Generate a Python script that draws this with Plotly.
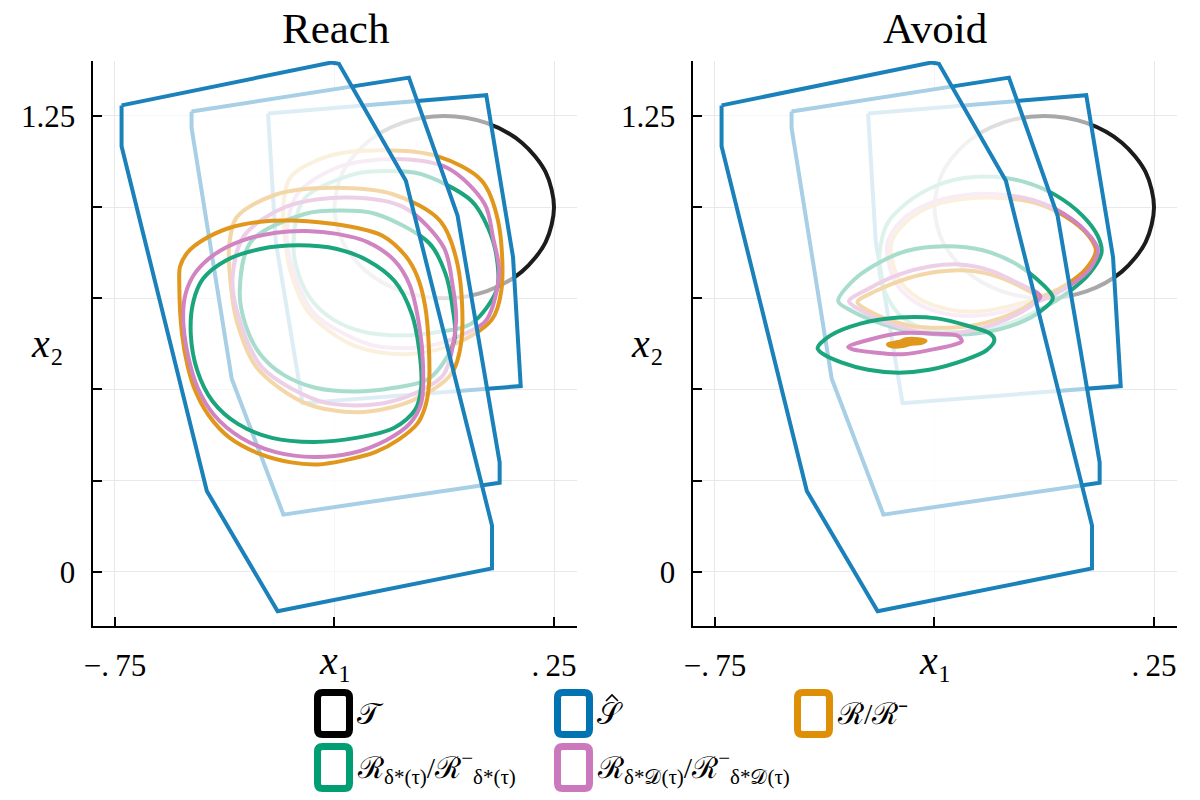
import plotly.graph_objects as go

# ---------------- data ----------------
# target set T (circle)
T_x = [0.25, 0.231, 0.1768, 0.0957, 0.0, -0.0957, -0.1768, -0.231, -0.25, -0.231, -0.1768, -0.0957, 0.0, 0.0957, 0.1768, 0.231, 0.25]
T_y = [1.0, 1.0957, 1.1768, 1.231, 1.25, 1.231, 1.1768, 1.0957, 1.0, 0.9043, 0.8232, 0.769, 0.75, 0.769, 0.8232, 0.9043, 1.0]

# S-hat polygons, layer 1 (oldest) .. layer 3 (newest)
S1_x = [-0.4013, 0.0957, 0.1567, 0.1742, -0.3228, -0.3838, -0.4013]
S1_y = [1.2567, 1.3071, 0.8628, 0.5092, 0.4622, 0.9053, 1.2567]
S2_x = [-0.5756, -0.0804, 0.0303, 0.1262, 0.1262, -0.3664, -0.4841, -0.5756, -0.5756]
S2_y = [1.2623, 1.3552, 0.9769, 0.2999, 0.2440, 0.1567, 0.5293, 1.2175, 1.2623]
S3_x = [-0.7350, -0.2574, -0.2400, -0.0874, 0.1088, 0.1088, -0.3795, -0.5408, -0.7350, -0.7350]
S3_y = [1.279, 1.3966, 1.3933, 1.0721, 0.1265, 0.0090, -0.1085, 0.2216, 1.1672, 1.279]

# ---- Reach panel ----
RO3_x = [-0.6035, -0.6018, -0.5843, -0.5495, -0.4884, -0.4187, -0.3490, -0.2705, -0.2008, -0.1397, -0.0874, -0.0612, -0.0438, -0.0351, -0.0351, -0.0438, -0.0612, -0.1048, -0.1571, -0.2269, -0.2879, -0.3490, -0.4187, -0.4884, -0.5364, -0.5669, -0.5843, -0.5974, -0.6035]
RO3_y = [0.7867, 0.8371, 0.8762, 0.9098, 0.9434, 0.9602, 0.9635, 0.9568, 0.9434, 0.9210, 0.8650, 0.8091, 0.7308, 0.6188, 0.5069, 0.4510, 0.4062, 0.3615, 0.3279, 0.3055, 0.2943, 0.2999, 0.3223, 0.3671, 0.4286, 0.4957, 0.5629, 0.6524, 0.7867]
RP3_x = [-0.5948, -0.5887, -0.5669, -0.5233, -0.4623, -0.3839, -0.3141, -0.2443, -0.1746, -0.1136, -0.0787, -0.0569, -0.0482, -0.0525, -0.0787, -0.1310, -0.2095, -0.2967, -0.3839, -0.4623, -0.5233, -0.5625, -0.5843, -0.5948]
RP3_y = [0.6972, 0.7643, 0.8203, 0.8706, 0.9076, 0.9300, 0.9344, 0.9266, 0.9042, 0.8539, 0.7867, 0.6748, 0.5629, 0.4622, 0.4062, 0.3615, 0.3256, 0.3145, 0.3279, 0.3671, 0.4286, 0.5069, 0.5965, 0.6972]
RG3_x = [-0.5774, -0.5713, -0.5495, -0.4972, -0.4187, -0.3315, -0.2443, -0.1746, -0.1136, -0.0743, -0.0569, -0.0525, -0.0656, -0.1136, -0.2008, -0.2967, -0.3926, -0.4710, -0.5277, -0.5625, -0.5774]
RG3_y = [0.6524, 0.7419, 0.8035, 0.8539, 0.8852, 0.8953, 0.8852, 0.8539, 0.7979, 0.7084, 0.6076, 0.5069, 0.4454, 0.3950, 0.3671, 0.3559, 0.3671, 0.4062, 0.4678, 0.5517, 0.6524]

RO2_x = [-0.4901, -0.4722, -0.3829, -0.2531, -0.1151, -0.0096, 0.0310, 0.0391, 0.0148, -0.0745, -0.1962, -0.3180, -0.4276, -0.4722, -0.4844, -0.4901]
RO2_y = [0.8906, 0.9729, 1.0347, 1.0532, 1.0347, 0.9626, 0.8391, 0.6331, 0.5405, 0.4685, 0.4376, 0.4633, 0.5611, 0.6847, 0.7670, 0.8906]
RP2_x = [-0.4820, -0.4560, -0.3586, -0.2206, -0.0908, -0.0015, 0.0188, 0.0269, -0.0015, -0.0502, -0.1232, -0.2044, -0.2856, -0.4154, -0.4722, -0.4820]
RP2_y = [0.8082, 0.9215, 1.0018, 1.0264, 0.9987, 0.8906, 0.7876, 0.6847, 0.5405, 0.4994, 0.4664, 0.4561, 0.4685, 0.5611, 0.7156, 0.8082]
RG2_x = [-0.4658, -0.4398, -0.3180, -0.2368, -0.1556, -0.0340, 0.0026, 0.0188, 0.0229, -0.0340, -0.1151, -0.2044, -0.2937, -0.3667, -0.4195, -0.4519, -0.4658]
RG2_y = [0.7670, 0.9060, 0.9812, 0.9905, 0.9812, 0.9009, 0.8185, 0.7258, 0.6331, 0.5302, 0.5045, 0.4942, 0.5045, 0.5405, 0.5972, 0.6744, 0.7670]

RO1_x = [-0.3664, -0.3496, -0.2658, -0.1439, -0.0144, 0.0847, 0.1228, 0.1304, 0.1076, 0.0238, -0.0905, -0.2048, -0.3077, -0.3496, -0.3610, -0.3664]
RO1_y = [1.0082, 1.0830, 1.1392, 1.1560, 1.1392, 1.0736, 0.9614, 0.7743, 0.6901, 0.6246, 0.5965, 0.6199, 0.7088, 0.8211, 0.8959, 1.0082]
RP1_x = [-0.3588, -0.3344, -0.2430, -0.1134, 0.0085, 0.0923, 0.1114, 0.1250, 0.0960, 0.0466, -0.0220, -0.0982, -0.1744, -0.2963, -0.3496, -0.3588]
RP1_y = [0.9334, 1.0363, 1.1093, 1.1317, 1.1064, 1.0082, 0.9146, 0.8211, 0.6901, 0.6527, 0.6227, 0.6134, 0.6246, 0.7088, 0.8492, 0.9334]
RG1_x = [-0.3435, -0.3192, -0.2048, -0.1286, -0.0524, 0.0618, 0.1000, 0.1200, 0.1200, 0.0618, -0.0144, -0.0982, -0.1820, -0.2506, -0.3001, -0.3305, -0.3435]
RG1_y = [0.8959, 1.0222, 1.0905, 1.0990, 1.0905, 1.0175, 0.9427, 0.8585, 0.7743, 0.6807, 0.6574, 0.6480, 0.6574, 0.6901, 0.7416, 0.8117, 0.8959]

# ---- Avoid panel ----
AG3_x = [-0.5163, -0.4884, -0.4187, -0.3315, -0.2443, -0.1746, -0.1223, -0.1136, -0.1310, -0.1833, -0.2618, -0.3315, -0.4013, -0.4623, -0.5059, -0.5163]
AG3_y = [0.6133, 0.6468, 0.6804, 0.6972, 0.6949, 0.6748, 0.6524, 0.6356, 0.6077, 0.5797, 0.5539, 0.5461, 0.5539, 0.5741, 0.5987, 0.6133]
AP3_x = [-0.4466, -0.4013, -0.3228, -0.2443, -0.1964, -0.1877, -0.2008, -0.2531, -0.3228, -0.3926, -0.4362, -0.4466]
AP3_y = [0.6166, 0.6356, 0.6547, 0.6524, 0.6468, 0.6323, 0.6244, 0.6099, 0.5965, 0.6021, 0.6099, 0.6166]
AO3_x = [-0.3559, -0.3315, -0.3141, -0.2879, -0.2705, -0.2792, -0.3054, -0.3228, -0.3490, -0.3559]
AO3_y = [0.6244, 0.6300, 0.6379, 0.6379, 0.6334, 0.6278, 0.6244, 0.6188, 0.6188, 0.6244]

AG2_x = [-0.4693, -0.4361, -0.3838, -0.3141, -0.2269, -0.1397, -0.0700, -0.0177, 0.0198, -0.0089, -0.0612, -0.1397, -0.2269, -0.3141, -0.3838, -0.4361, -0.4693]
AG2_y = [0.7419, 0.7979, 0.8427, 0.8796, 0.8930, 0.8818, 0.8482, 0.8035, 0.7509, 0.7140, 0.6804, 0.6558, 0.6502, 0.6614, 0.6860, 0.7140, 0.7419]
AP2_x = [-0.4449, -0.4013, -0.3315, -0.2618, -0.1920, -0.1223, -0.0612, -0.0089, -0.0351, -0.0874, -0.1571, -0.2269, -0.2967, -0.3664, -0.4187, -0.4449]
AP2_y = [0.7419, 0.7755, 0.8147, 0.8371, 0.8427, 0.8259, 0.7923, 0.7554, 0.7252, 0.6916, 0.6636, 0.6524, 0.6614, 0.6860, 0.7173, 0.7419]
AO2_x = [-0.4257, -0.3838, -0.3141, -0.2443, -0.1746, -0.1048, -0.0525, -0.0177, -0.0438, -0.0961, -0.1659, -0.2356, -0.3054, -0.3664, -0.4057, -0.4257]
AO2_y = [0.7397, 0.7699, 0.8035, 0.8225, 0.8259, 0.8091, 0.7811, 0.7531, 0.7252, 0.6972, 0.6748, 0.6692, 0.6748, 0.6972, 0.7196, 0.7397]

AG1_x = [-0.3751, -0.3577, -0.3141, -0.2531, -0.1833, -0.1136, -0.0438, 0.0259, 0.0870, 0.1218, 0.1306, 0.1044, 0.0521, -0.0177, -0.0961, -0.1833, -0.2618, -0.3228, -0.3620, -0.3751, -0.3751]
AG1_y = [0.8762, 0.9546, 1.0105, 1.0553, 1.0799, 1.0833, 1.0687, 1.0329, 0.9769, 0.9210, 0.8762, 0.8203, 0.7643, 0.7140, 0.6748, 0.6580, 0.6636, 0.6972, 0.7643, 0.8203, 0.8762]
AP1_x = [-0.3577, -0.3228, -0.2618, -0.1833, -0.1048, -0.0264, 0.0434, 0.0957, 0.1218, 0.1044, 0.0608, -0.0002, -0.0700, -0.1484, -0.2269, -0.2967, -0.3403, -0.3577]
AP1_y = [0.8986, 0.9658, 1.0105, 1.0329, 1.0351, 1.0195, 0.9825, 0.9322, 0.8852, 0.8315, 0.7867, 0.7475, 0.7196, 0.7028, 0.7084, 0.7419, 0.7979, 0.8986]
AO1_x = [-0.3490, -0.3141, -0.2531, -0.1746, -0.0961, -0.0177, 0.0477, 0.1000, 0.1175, 0.0957, 0.0521, -0.0089, -0.0787, -0.1484, -0.2182, -0.2879, -0.3315, -0.3490]
AO1_y = [0.8986, 0.9602, 1.0049, 1.0239, 1.0251, 1.0105, 0.9747, 0.9232, 0.8818, 0.8315, 0.7889, 0.7531, 0.7285, 0.7140, 0.7196, 0.7509, 0.8035, 0.8986]

x_tickvals = [-0.75, 0.25]
x_ticktext = ["\u2212.\u200975", ".\u200925"]
x_minorvals = [-0.25]
y_tickvals = [0, 1.25]
y_ticktext = ["0", "1.25"]
y_minorvals = [0.25, 0.5, 0.75, 1.0]

legend_labels = [
    "\U0001D4AF",
    "\U0001D4AE",
    "\u211B/\u211B\u207B",
    "\u211B<sub>\u03B4*(\u03C4)</sub>/\u211B<sup>\u2212</sup><sub>\u03B4*(\u03C4)</sub>",
    "\u211B<sub>\u03B4*\U0001D49F(\u03C4)</sub>/\u211B<sup>\u2212</sup><sub>\u03B4*\U0001D49F(\u03C4)</sub>",
]

# ---------------- styles ----------------
C_BLACK = "rgb(28,28,28)"
C_BLUE = "rgb(26,129,186)"
C_ORANGE = "rgb(225,150,28)"
C_GREEN = "rgb(27,165,125)"
C_PINK = "rgb(208,132,194)"
LEG_COLORS = ["rgb(0,0,0)", "rgb(1,115,178)", "rgb(222,143,5)", "rgb(2,158,115)", "rgb(204,120,188)"]
WHITE_FILL = "rgba(255,255,255,0.62)"
LW = 4
FONT = "Liberation Serif"

fig = go.Figure()


def curve(x, y, color, ax, fill=None, spline=True):
    kw = dict(x=x, y=y, mode="lines", xaxis=ax[0], yaxis=ax[1], showlegend=False,
              hoverinfo="skip",
              line=dict(color=color, width=LW, shape="spline" if spline else "linear", smoothing=0.9))
    if fill:
        kw.update(fill="toself", fillcolor=fill)
    fig.add_trace(go.Scatter(**kw))


panels = [
    (("x", "y"), [(RO1_x, RO1_y, RG1_x, RG1_y, RP1_x, RP1_y),
                  (RO2_x, RO2_y, RG2_x, RG2_y, RP2_x, RP2_y),
                  (RO3_x, RO3_y, RG3_x, RG3_y, RP3_x, RP3_y)]),
    (("x2", "y2"), [(AO1_x, AO1_y, AG1_x, AG1_y, AP1_x, AP1_y),
                    (AO2_x, AO2_y, AG2_x, AG2_y, AP2_x, AP2_y),
                    (AO3_x, AO3_y, AG3_x, AG3_y, AP3_x, AP3_y)]),
]
S_layers = [(S1_x, S1_y), (S2_x, S2_y), (S3_x, S3_y)]

for ax, layers in panels:
    curve(T_x, T_y, C_BLACK, ax)
    for (sx, sy), (ox, oy, gx, gy, px, py) in zip(S_layers, layers):
        curve(sx, sy, C_BLUE, ax, fill=WHITE_FILL, spline=False)
        # the tiniest orange set reads as a solid blob
        curve(ox, oy, C_ORANGE, ax, fill=C_ORANGE if ox is AO3_x else None)
        curve(gx, gy, C_GREEN, ax)
        curve(px, py, C_PINK, ax)

GRID = "rgb(232,232,232)"
axis_common = dict(
    showline=True, linecolor="black", linewidth=1.5, mirror=False,
    ticks="inside", ticklen=9, tickwidth=1.5, tickcolor="black",
    showgrid=True, gridcolor=GRID, gridwidth=1, zeroline=False, automargin=False,
    tickfont=dict(family=FONT, size=31, color="black"),
)
minor_common = dict(tickmode="array", ticks="inside", ticklen=9, tickwidth=1.5,
                    tickcolor="black", showgrid=True, gridcolor=GRID, gridwidth=1)
xr = [-0.7994, 0.3024]
yr = [-0.1488, 1.4008]
ydom = [1 - 626 / 800, 1 - 61 / 800]

fig.update_layout(
    width=1200, height=800, autosize=False,
    margin=dict(l=0, r=0, t=0, b=0),
    paper_bgcolor="white", plot_bgcolor="white",
    xaxis=dict(domain=[93.3 / 1200, 577 / 1200], range=xr, anchor="y",
               tickvals=x_tickvals, ticktext=x_ticktext, ticklabelstandoff=11,
               minor=dict(tickvals=x_minorvals, **minor_common), **axis_common),
    yaxis=dict(domain=ydom, range=yr, anchor="x",
               tickvals=y_tickvals, ticktext=y_ticktext, ticklabelstandoff=10,
               minor=dict(tickvals=y_minorvals, **minor_common), **axis_common),
    xaxis2=dict(domain=[693.3 / 1200, 1177 / 1200], range=xr, anchor="y2",
                tickvals=x_tickvals, ticktext=x_ticktext, ticklabelstandoff=11,
                minor=dict(tickvals=x_minorvals, **minor_common), **axis_common),
    yaxis2=dict(domain=ydom, range=yr, anchor="x2",
                tickvals=y_tickvals, ticktext=y_ticktext, ticklabelstandoff=10,
                minor=dict(tickvals=y_minorvals, **minor_common), **axis_common),
    showlegend=False,
)

ann = []
# titles
for cx, t in [(335, "Reach"), (935, "Avoid")]:
    ann.append(dict(x=cx / 1200, y=1 - 28 / 800, xref="paper", yref="paper", text=t,
                    showarrow=False, xanchor="center", yanchor="middle",
                    font=dict(family=FONT, size=43, color="black")))
# axis labels
for cx in (335, 935):
    ann.append(dict(x=cx / 1200, y=1 - 660 / 800, xref="paper", yref="paper",
                    text="<i>x</i>\u2081", showarrow=False, xanchor="center", yanchor="middle",
                    font=dict(family=FONT, size=40, color="black")))
for cx in (47, 647):
    ann.append(dict(x=cx / 1200, y=1 - 343 / 800, xref="paper", yref="paper",
                    text="<i>x</i>\u2082", showarrow=False, xanchor="center", yanchor="middle",
                    font=dict(family=FONT, size=40, color="black")))


def X(v):
    return v / 1200


def Y(v):
    return 1 - v / 800


def rounded_box(x0, y0, x1, y1, r=5):
    # pixel coords -> paper coords, rounded rectangle path
    return (f"M {X(x0 + r)},{Y(y0)} L {X(x1 - r)},{Y(y0)} Q {X(x1)},{Y(y0)} {X(x1)},{Y(y0 + r)} "
            f"L {X(x1)},{Y(y1 - r)} Q {X(x1)},{Y(y1)} {X(x1 - r)},{Y(y1)} "
            f"L {X(x0 + r)},{Y(y1)} Q {X(x0)},{Y(y1)} {X(x0)},{Y(y1 - r)} "
            f"L {X(x0)},{Y(y0 + r)} Q {X(x0)},{Y(y0)} {X(x0 + r)},{Y(y0)} Z")


# legend (boxes + labels)
leg_pos = [(314, 689), (554, 689), (794, 689), (314, 743), (554, 743)]
shapes = []
for (lx, ly), col, lab in zip(leg_pos, LEG_COLORS, legend_labels):
    shapes.append(dict(type="path", xref="paper", yref="paper",
                       path=rounded_box(lx + 3.5, ly + 3.5, lx + 35.5, ly + 45.5),
                       line=dict(color=col, width=7), fillcolor="white"))
    ann.append(dict(x=(lx + 41) / 1200, y=1 - (ly + 24) / 800, xref="paper", yref="paper",
                    text=lab, showarrow=False, xanchor="left", yanchor="middle",
                    font=dict(family=FONT, size=30, color="black")))
# hat accent over the S of the second legend entry
shapes.append(dict(type="path", xref="paper", yref="paper",
                   path=f"M {X(606)},{Y(701)} L {X(612)},{Y(695)} L {X(618)},{Y(701)}",
                   line=dict(color="black", width=1.6)))

fig.update_layout(annotations=ann, shapes=shapes)
fig.write_html("out.html", config={"displayModeBar": False},
               post_script="document.body.style.margin='0px';")
